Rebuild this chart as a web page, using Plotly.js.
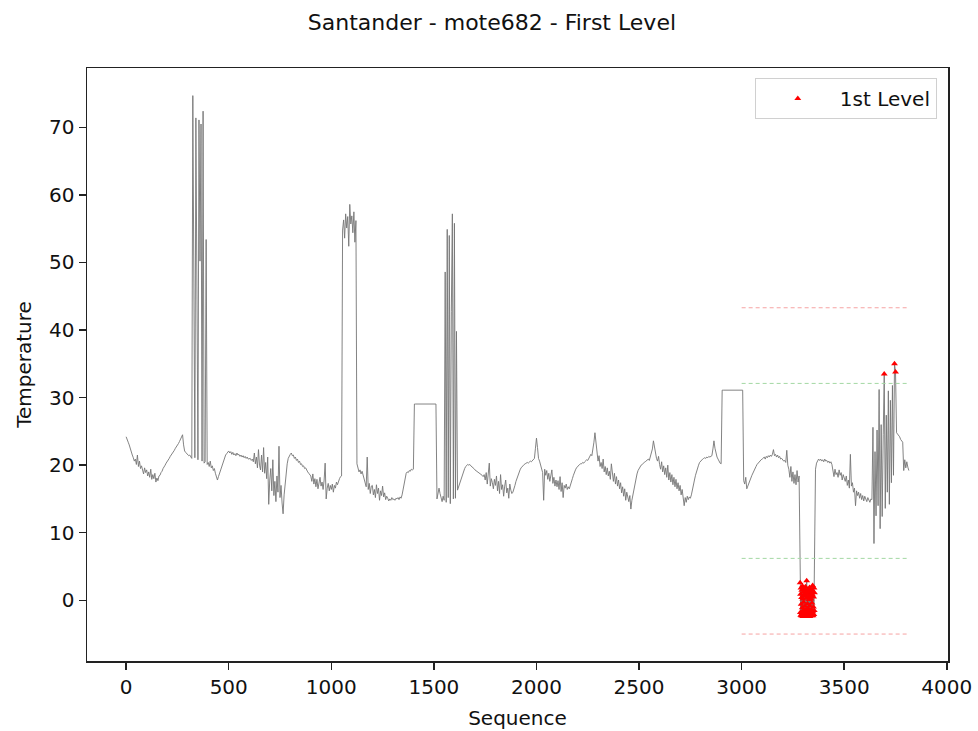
<!DOCTYPE html>
<html>
<head>
<meta charset="utf-8">
<script src="https://cdn.plot.ly/plotly-3.0.1.min.js"></script>
<style>html,body{margin:0;padding:0;background:#fff;}#chart{width:978px;height:731px;}</style>
</head>
<body>
<div id="chart"></div>
<script>
// Sequence layout of the three recorded stretches
const mainStart = 0, mainStep = 5;
const coldStart = 3285, coldStep = 1;
const endStart = 3360, endStep = 5;

// Temperature readings, seq 0..3280 (step 5)
const tempMain = [
24.2,23.9,23.4,23.0,22.4,22.0,21.5,21.1,20.6,20.9,20.1,21.5,19.8,20.6,19.5,19.9,19.2,18.7,19.6,18.9,
19.3,18.4,19.0,18.2,19.4,17.9,18.6,18.0,18.8,17.5,18.1,17.7,18.4,18.5,18.9,19.1,19.5,19.7,20.0,20.3,
20.5,20.8,21.0,21.3,21.5,21.8,22.0,22.2,22.5,22.7,22.9,23.2,23.5,23.9,24.1,24.5,23.0,22.1,21.9,21.7,
21.6,21.4,21.5,21.2,21.0,74.7,53.0,21.1,71.4,52.6,20.8,71.1,50.2,70.5,20.6,72.4,20.3,20.5,53.4,20.1,
20.4,19.8,20.6,19.6,19.9,19.2,19.5,18.8,18.4,17.8,18.3,18.8,19.3,19.8,20.3,20.8,21.2,21.5,21.7,21.9,
22.1,21.8,22.0,21.6,21.9,21.5,21.7,21.4,21.8,21.5,21.6,21.3,21.5,21.2,21.4,21.1,21.3,21.0,21.2,20.9,
20.9,21.0,20.7,20.9,20.5,21.8,20.2,21.2,19.6,22.3,20.0,19.3,21.5,19.0,22.6,18.8,20.4,18.0,21.2,14.2,
17.8,19.5,16.2,20.8,15.5,17.6,14.6,18.4,16.0,22.8,15.2,17.0,14.4,12.8,15.6,17.4,19.0,20.2,21.0,21.4,
21.6,21.8,21.4,21.5,21.0,21.2,20.7,20.9,20.4,20.6,20.1,20.2,19.8,19.9,19.5,19.6,19.2,19.0,18.8,18.5,
18.4,17.6,18.7,17.2,18.0,16.8,17.9,16.5,17.4,18.2,16.9,17.5,16.4,17.8,20.3,15.0,16.6,17.3,16.2,17.0,
16.4,17.2,16.0,17.0,16.6,17.5,17.1,17.8,18.0,18.3,18.4,54.8,56.3,53.6,57.2,55.1,56.8,52.4,58.6,55.7,
56.9,54.4,57.5,53.0,56.2,20.2,19.6,19.0,19.3,18.7,19.1,18.5,18.2,17.6,16.8,21.2,16.4,17.3,15.8,16.9,
17.0,15.6,16.4,15.2,17.1,15.8,16.6,14.8,16.2,15.5,16.9,15.3,15.9,14.9,15.4,15.1,14.7,15.0,14.8,15.2,
14.9,15.0,14.8,15.1,15.0,15.2,14.9,15.3,15.1,15.6,16.4,17.3,18.2,18.8,19.0,18.9,19.2,19.1,19.4,19.3,
19.4,29.05,29.05,29.05,29.05,29.05,29.05,29.05,29.05,29.05,29.05,29.05,29.05,29.05,29.05,29.05,29.05,29.05,29.05,29.05,
29.05,29.05,29.05,15.0,16.0,16.6,15.8,15.2,14.6,15.4,14.8,48.6,14.5,54.9,15.2,54.0,14.3,42.7,57.2,15.0,
55.8,15.1,39.8,16.3,16.8,17.3,17.8,18.3,18.7,19.1,19.5,19.8,20.0,20.1,20.0,20.1,19.9,19.8,19.6,19.5,
19.3,19.2,19.0,18.9,18.8,18.7,18.6,18.5,18.3,18.6,17.8,18.9,17.2,18.5,20.3,16.9,18.0,17.4,16.5,17.9,
17.0,18.4,16.2,17.6,15.8,18.6,16.4,17.1,15.4,16.9,17.8,15.9,16.6,15.1,17.2,16.3,15.8,16.0,16.4,17.0,
17.6,18.1,18.6,19.0,19.3,19.6,19.8,20.0,20.1,20.2,20.3,20.4,20.3,20.5,20.6,20.5,20.7,20.8,21.0,22.5,
24.0,22.6,21.0,20.6,20.1,19.7,18.9,14.8,19.4,18.5,19.2,17.9,18.8,17.6,18.4,19.3,17.3,18.2,16.9,17.8,
16.8,17.7,16.4,18.3,16.1,17.4,15.2,17.0,16.6,17.2,16.4,16.8,16.5,16.9,17.4,18.0,18.5,19.0,19.3,19.6,
19.8,19.9,20.1,20.2,20.2,20.4,20.3,20.5,20.6,20.8,20.7,21.0,21.2,21.6,21.4,22.2,23.4,24.8,23.2,21.2,
20.6,21.4,19.8,20.4,19.5,20.9,19.0,19.8,18.6,19.6,18.4,19.1,17.9,20.2,18.2,17.6,18.8,17.2,18.3,16.9,
17.8,16.5,17.4,15.9,16.8,15.4,16.5,14.8,16.0,15.2,14.6,15.5,13.5,14.8,15.6,16.5,17.4,18.1,18.7,19.2,
19.5,19.8,20.0,20.1,20.3,20.4,20.5,20.6,20.8,20.9,20.7,21.2,21.6,22.4,23.6,22.8,21.4,21.0,20.6,21.3,
20.1,19.4,20.5,19.0,19.9,18.6,19.6,18.2,20.0,17.8,18.9,17.5,18.6,17.1,18.2,16.8,17.9,16.5,17.4,16.2,
17.0,15.6,16.4,15.0,14.0,15.2,14.5,15.4,14.9,15.3,15.1,15.6,16.2,17.0,17.8,18.5,19.1,19.6,20.0,20.4,
20.6,20.8,20.9,21.0,21.1,21.0,21.2,21.1,21.3,21.2,21.3,21.4,22.4,23.6,22.5,21.6,21.2,20.9,20.5,20.3,
20.2,31.1,31.1,31.1,31.1,31.1,31.1,31.1,31.1,31.1,31.1,31.1,31.1,31.1,31.1,31.1,31.1,31.1,31.1,31.1,
31.1,31.1,17.7,17.2,18.2,16.5,16.9,17.4,17.6,18.1,18.5,18.9,19.2,19.6,19.8,20.1,20.3,20.5,20.7,20.8,
20.9,21.0,21.2,20.9,21.3,21.1,21.4,21.2,21.5,21.3,21.6,22.3,21.4,21.6,21.2,21.5,21.1,21.3,20.9,21.0,
20.8,20.6,20.7,20.4,22.2,20.0,19.4,18.2,19.8,17.6,19.0,17.3,18.6,17.1,19.2,17.5,18.4
];

// Cold dip readings, seq 3285..3355 (step 1)
const tempCold = [
2.6,-1.8,0.9,-2.2,1.8,-0.6,-2.3,0.4,1.5,-2.0,-1.1,2.1,-2.4,0.2,-1.5,1.2,-2.1,-0.3,1.7,-2.2,
0.8,-1.9,1.4,-2.3,-0.9,0.6,2.0,-2.0,-1.4,1.1,-2.4,0.3,2.9,-1.7,-2.2,0.9,-0.5,1.6,-2.1,-1.2,
0.5,-2.3,1.3,-1.6,0.1,-2.2,1.9,-0.8,-2.4,0.7,1.4,-1.9,-2.2,0.2,1.0,-1.4,-2.3,1.6,-0.4,-2.0,
0.8,2.2,-1.7,-2.3,1.2,-1.0,0.5,-2.1,1.8,-1.5,1.1
];

// Final stretch readings, seq 3360..3815 (step 5)
const tempEnd = [
19.4,20.3,20.6,20.9,20.7,20.9,20.6,20.8,20.5,20.9,20.6,20.7,20.4,20.6,20.3,20.5,20.1,19.2,18.3,19.4,
18.6,18.9,18.2,19.3,18.5,18.9,17.8,18.6,18.1,17.6,18.4,17.0,17.8,16.6,21.6,16.9,17.4,16.0,16.6,14.0,
16.2,15.5,16.0,15.1,15.8,14.9,15.5,14.7,15.4,15.0,14.6,15.2,14.8,14.5,15.0,14.9,
25.6,8.4,22.0,12.5,25.2,14.0,31.2,10.6,26.0,12.4,24.5,33.5,13.6,27.4,16.0,31.0,14.2,29.6,17.4,31.8,18.5,35.0,33.8,
24.8,24.6,24.4,24.2,23.8,23.6,23.4,19.2,20.8,19.6,20.5,19.7,19.2
];

// Threshold levels (drawn from seq 3000 to end)
const thrStart = 3000;
const redUpper = 43.3, greenUpper = 32.1, greenLower = 6.2, redLower = -5.0;

// Assemble series
const seq = [], temp = [];
tempMain.forEach((v, i) => { seq.push(mainStart + i * mainStep); temp.push(v); });
tempCold.forEach((v, i) => { seq.push(coldStart + i * coldStep); temp.push(v); });
tempEnd.forEach((v, i) => { seq.push(endStart + i * endStep); temp.push(v); });
const seqEnd = seq[seq.length - 1];

// First-level anomalies: outside the green band within the threshold window
const anX = [], anY = [];
seq.forEach((s, i) => {
  if (s >= thrStart && (temp[i] > greenUpper || temp[i] < greenLower)) { anX.push(s); anY.push(temp[i]); }
});

const F = "DejaVu Sans, Liberation Sans, sans-serif";
function hline(y, color) {
  return {x: [thrStart, seqEnd], y: [y, y], mode: 'lines', showlegend: false, hoverinfo: 'skip',
    line: {color: color, width: 1, dash: '4px,3px'}};
}

const traces = [
  {x: seq, y: temp, mode: 'lines', showlegend: false, line: {color: 'rgba(118,118,118,0.9)', width: 1}},
  hline(redUpper, '#f6a3a3'),
  hline(greenUpper, '#a3d8a3'),
  hline(greenLower, '#a3d8a3'),
  hline(redLower, '#f6a3a3'),
  {x: anX, y: anY, mode: 'markers', name: '1st Level',
    marker: {symbol: 'triangle-up', color: 'red', size: 6, line: {width: 0}}}
];

const axisCommon = {
  showline: true, mirror: true, linecolor: '#222', linewidth: 1.5,
  ticks: 'outside', ticklen: 7, tickwidth: 1.5, tickcolor: '#222',
  showgrid: false, zeroline: false,
  tickfont: {family: F, size: 20, color: '#111'}
};

const layout = {
  width: 978, height: 731,
  paper_bgcolor: '#fff', plot_bgcolor: '#fff',
  margin: {l: 87, r: 30, t: 68, b: 70},
  title: {text: 'Santander - mote682 - First Level', font: {family: F, size: 22, color: '#111'},
    x: 0.503, xanchor: 'center', y: 0.97, yanchor: 'middle', yref: 'container'},
  xaxis: Object.assign({}, axisCommon, {range: [-190.75, 4005.75], tick0: 0, dtick: 500,
    title: {text: 'Sequence', font: {family: F, size: 20, color: '#111'}, standoff: 13}}),
  yaxis: Object.assign({}, axisCommon, {range: [-8.99, 78.79], tick0: 0, dtick: 10,
    title: {text: 'Temperature', font: {family: F, size: 20, color: '#111'}, standoff: 12}}),
  legend: {x: 0.987, xanchor: 'right', y: 0.983, yanchor: 'top', bgcolor: 'rgba(255,255,255,0.9)',
    bordercolor: '#d0d0d0', borderwidth: 1, itemwidth: 74,
    font: {family: F, size: 20, color: '#111'}},
  showlegend: true
};

Plotly.newPlot('chart', traces, layout, {staticPlot: true, displayModeBar: false});
</script>
</body>
</html>
